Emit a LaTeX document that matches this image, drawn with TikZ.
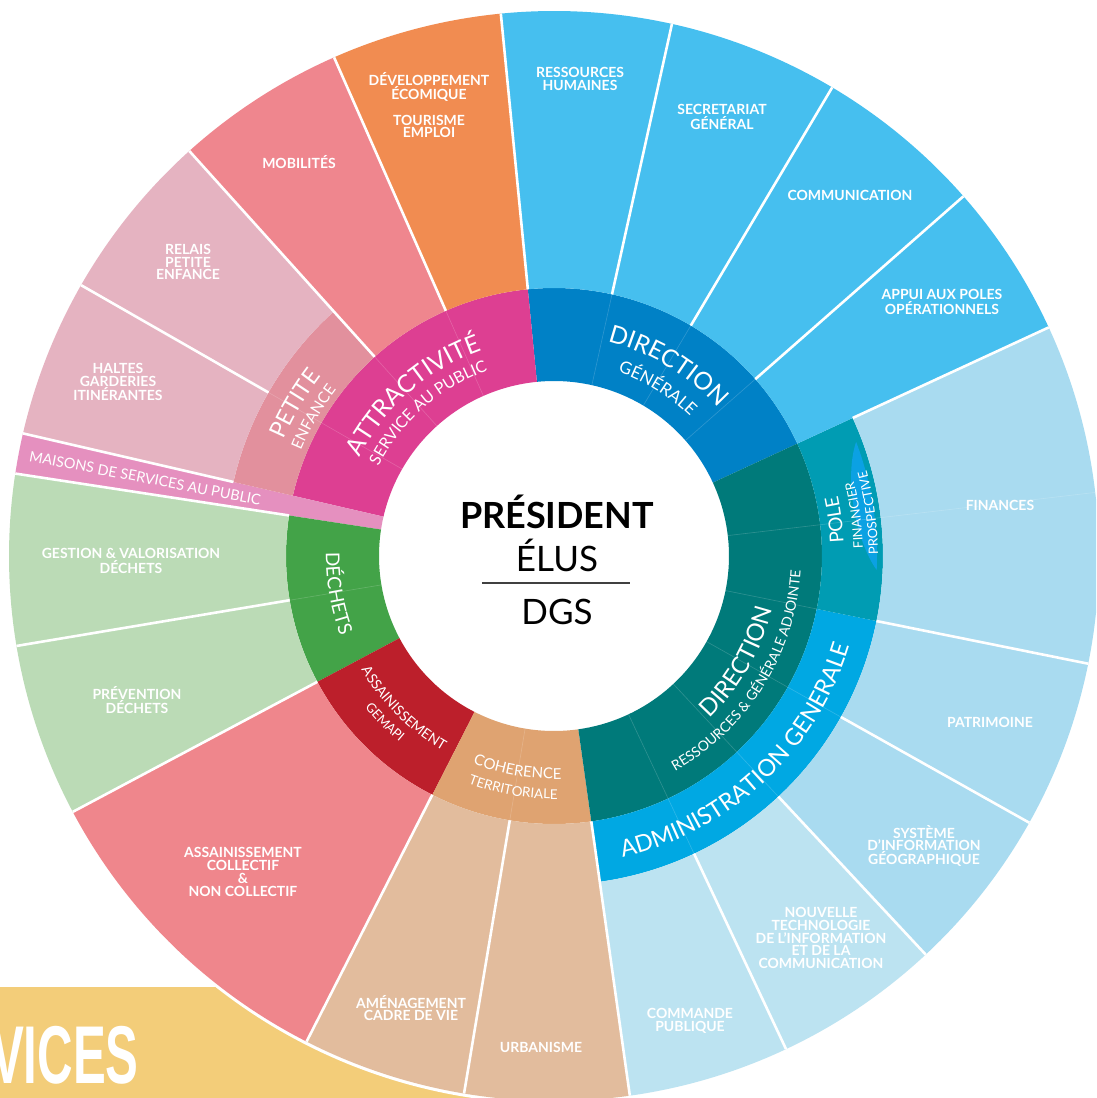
\documentclass[tikz,border=0pt]{standalone}
\usepackage{fontspec}
\setmainfont{Lato}
\newfontfamily\bannerfont{Liberation Sans}
\usetikzlibrary{decorations.text}

\definecolor{dgdark}{HTML}{0081C6}
\definecolor{dglight}{HTML}{46BFEF}
\definecolor{drga}{HTML}{007A7A}
\definecolor{pole}{HTML}{009CB3}
\definecolor{admin}{HTML}{00A8E3}
\definecolor{bluepale}{HTML}{A9DBF0}
\definecolor{bluepaler}{HTML}{BCE3F1}
\definecolor{prosp}{HTML}{0BA1E3}
\definecolor{attr}{HTML}{DD3F92}
\definecolor{petite}{HTML}{E2909D}
\definecolor{petitelight}{HTML}{E5B3C1}
\definecolor{mobil}{HTML}{EF868E}
\definecolor{devel}{HTML}{F18C51}
\definecolor{maisons}{HTML}{E590BF}
\definecolor{dechets}{HTML}{43A348}
\definecolor{dechetslight}{HTML}{BBDBB6}
\definecolor{gemapi}{HTML}{BC1F2B}
\definecolor{assain}{HTML}{EF868C}
\definecolor{coher}{HTML}{DFA371}
\definecolor{coherlight}{HTML}{E2BC9D}
\definecolor{banner}{HTML}{F3CD79}

\newcommand{\Rzero}{175pt}
\newcommand{\Rone}{268pt}
\newcommand{\Rtwo}{329pt}
\newcommand{\Rout}{545pt}

% colour, start angle, end angle, inner radius, outer radius
\newcommand{\ringseg}[5]{\fill[#1] (#2:#4) arc[start angle=#2, end angle=#3, radius=#4] -- (#3:#5) arc[start angle=#3, end angle=#2, radius=#5] -- cycle;}

% size, start angle, end angle, baseline radius, text
\newcommand{\ringtext}[5]{\path[decorate, decoration={text along path, text align=center, text={|\color{white}\fontsize{#1}{#1}\selectfont|#5}}] (#2:#4) arc[start angle=#2, end angle=#3, radius=#4];}

\tikzset{
	leaf/.style = {text=white, align=center, inner sep=0pt, font=\bfseries\fontsize{14}{12.8}\selectfont},
	divider/.style = {white, line width=2.6pt},
	seam/.style = {white, opacity=0.18, line width=0.6pt}
}

\begin{document}
\begin{tikzpicture}[x=1pt, y=1pt]
	\useasboundingbox (-554,-542) rectangle (542,556);
	\clip (-554,-542) rectangle (542,556);
	
	% banner
	\fill[banner] (-560,-431) rectangle (20,-560);
	\node[anchor=base west, inner sep=0pt, xscale=0.6, transform shape, text=white, font=\bannerfont\bfseries\fontsize{82}{82}\selectfont] (services) at (-563,-527) {VICES};
	\fill[white] (0,0) circle (548pt);
	
	% inner ring
	\ringseg{dgdark}{24.8}{95.6}{\Rzero}{\Rone}
	\ringseg{attr}{95.6}{167}{\Rzero}{\Rone}
	\ringseg{maisons}{167}{171.3}{\Rzero}{\Rout}
	\ringseg{dechets}{171.3}{208}{\Rzero}{\Rone}
	\ringseg{gemapi}{208}{243}{\Rzero}{\Rone}
	\ringseg{coher}{243}{278}{\Rzero}{\Rone}
	\ringseg{drga}{278}{384.8}{\Rzero}{\Rone}
	
	% middle ring
	\ringseg{petite}{132}{167}{\Rone}{\Rtwo}
	\ringseg{admin}{278}{348.6}{\Rone}{\Rtwo}
	\ringseg{pole}{348.6}{384.8}{\Rone}{\Rtwo}
	
	% outer ring
	\ringseg{bluepale}{348.6}{384.8}{\Rtwo}{\Rout}
	\ringseg{dglight}{24.8}{95.6}{\Rone}{\Rout}
	\ringseg{devel}{95.6}{113.8}{\Rone}{\Rout}
	\ringseg{mobil}{113.8}{132}{\Rone}{\Rout}
	\ringseg{petitelight}{132}{167}{\Rtwo}{\Rout}
	\ringseg{dechetslight}{171.3}{208}{\Rone}{\Rout}
	\ringseg{assain}{208}{243}{\Rone}{\Rout}
	\ringseg{coherlight}{243}{278}{\Rone}{\Rout}
	\ringseg{bluepaler}{278}{313}{\Rtwo}{\Rout}
	\ringseg{bluepale}{313}{348.6}{\Rtwo}{\Rout}
	
	% prospective
	\fill[prosp] (-2.5:323pt) arc[start angle=-2.5, end angle=20.7, radius=323pt] .. controls (15:300pt) and (3:302pt) .. (-2.5:323pt) -- cycle;
	
	% seams
	\foreach \a/\r in {41.3/\Rone, 59.3/\Rone, 77.5/\Rone, 113.8/\Rone, 132/\Rone, 150.2/\Rtwo, 189.5/\Rone, 260.5/\Rone, 295.2/\Rtwo, 313/\Rtwo, 330.7/\Rtwo, 348.6/\Rone, 6.7/\Rout}{
		\draw[seam] (\a:\Rzero) -- (\a:\r);
	}
	
	% dividers
	\foreach \a in {41.3, 59.3, 77.5, 95.6, 113.8, 132, 171.3, 189.5, 208, 243, 260.5, 278}{
		\draw[divider] (\a:\Rone) -- (\a:\Rout);
	}
	\foreach \a in {24.8, 150.2, 167, 295.2, 313, 330.7, 348.6}{
		\draw[divider] (\a:\Rtwo) -- (\a:\Rout);
	}
	
	% centre
	\node[anchor=base, inner sep=0pt, font=\bfseries\fontsize{36}{36}\selectfont] (president) at (3,28) {PRÉSIDENT};
	\node[anchor=base, inner sep=0pt, font=\fontsize{35}{35}\selectfont] (elus) at (3,-15) {ÉLUS};
	\node[anchor=base, inner sep=0pt, font=\fontsize{35}{35}\selectfont] (dgs) at (3,-68) {DGS};
	\draw[black!75, line width=1.5pt] (-72,-27) -- (76,-27);
	
	% ring texts, clockwise
	\ringtext{24.5}{176.3}{86.3}{218pt}{ATTRACTIVITÉ}
	\ringtext{16}{176.3}{86.3}{197pt}{SERVICE AU PUBLIC}
	\ringtext{24.5}{104}{14}{221pt}{DIRECTION}
	\ringtext{17}{103.3}{13.3}{195pt}{GÉNÉRALE}
	\ringtext{23}{194.5}{104.5}{294pt}{PETITE}
	\ringtext{15.5}{195}{105}{274pt}{ENFANCE}
	
	% ring texts, counter-clockwise
	\ringtext{19}{144.8}{234.8}{228pt}{DÉCHETS}
	\ringtext{14}{180.4}{270.4}{224pt}{ASSAINISSEMENT}
	\ringtext{13}{179.5}{269.5}{242pt}{GEMAPI}
	\ringtext{15}{215.3}{305.3}{223pt}{COHERENCE}
	\ringtext{13.5}{215.1}{305.1}{243pt}{TERRITORIALE}
	\ringtext{24}{-75}{15}{225pt}{DIRECTION}
	\ringtext{14}{-77}{13}{247pt}{RESSOURCES {\&} GÉNÉRALE ADJOINTE}
	\ringtext{23.5}{-92}{-2}{309pt}{ADMINISTRATION GENERALE}
	\ringtext{19}{-37.7}{52.3}{290pt}{POLE}
	\ringtext{13}{-37.3}{52.7}{309pt}{FINANCIER}
	\ringtext{13}{-37.2}{52.8}{324pt}{PROSPECTIVE}
	
	\node[rotate=-10.8, inner sep=0pt, text=white, font=\fontsize{14.5}{14.5}\selectfont] (maisons) at (-409,78) {MAISONS DE SERVICES AU PUBLIC};
	
	% outer labels
	\node[leaf] (rh) at (26,477) {RESSOURCES\\HUMAINES};
	\node[leaf] (secretariat) at (168,439) {SECRETARIAT\\GÉNÉRAL};
	\node[leaf] (communication) at (296,361) {COMMUNICATION};
	\node[leaf] (appui) at (388,254) {APPUI AUX POLES\\OPÉRATIONNELS};
	\node[leaf] (finances) at (446,51) {FINANCES};
	\node[leaf] (patrimoine) at (436,-166) {PATRIMOINE};
	\node[leaf] (sig) at (370,-290) {SYSTÈME\\D’INFORMATION\\GÉOGRAPHIQUE};
	\node[leaf] (ntic) at (267,-382) {NOUVELLE\\TECHNOLOGIE\\DE L’INFORMATION\\ET DE LA\\COMMUNICATION};
	\node[leaf] (commande) at (136,-465) {COMMANDE\\PUBLIQUE};
	\node[leaf] (urbanisme) at (-13,-491) {URBANISME};
	\node[leaf] (amenagement) at (-143,-452) {AMÉNAGEMENT\\CADRE DE VIE};
	\node[leaf] (assainissement) at (-311,-316) {ASSAINISSEMENT\\COLLECTIF\\\&\\NON COLLECTIF};
	\node[leaf] (prevention) at (-417,-144) {PRÉVENTION\\DÉCHETS};
	\node[leaf] (gestion) at (-423,-5) {GESTION \& VALORISATION\\DÉCHETS};
	\node[leaf] (haltes) at (-436,174) {HALTES\\GARDERIES\\ITINÉRANTES};
	\node[leaf] (relais) at (-366,294) {RELAIS\\PETITE\\ENFANCE};
	\node[leaf] (mobilites) at (-255,394) {MOBILITÉS};
	\node[leaf] (developpement) at (-125,451) {DÉVELOPPEMENT\\ÉCOMIQUE\\[13pt]TOURISME\\EMPLOI};
	
\end{tikzpicture}
\end{document}
